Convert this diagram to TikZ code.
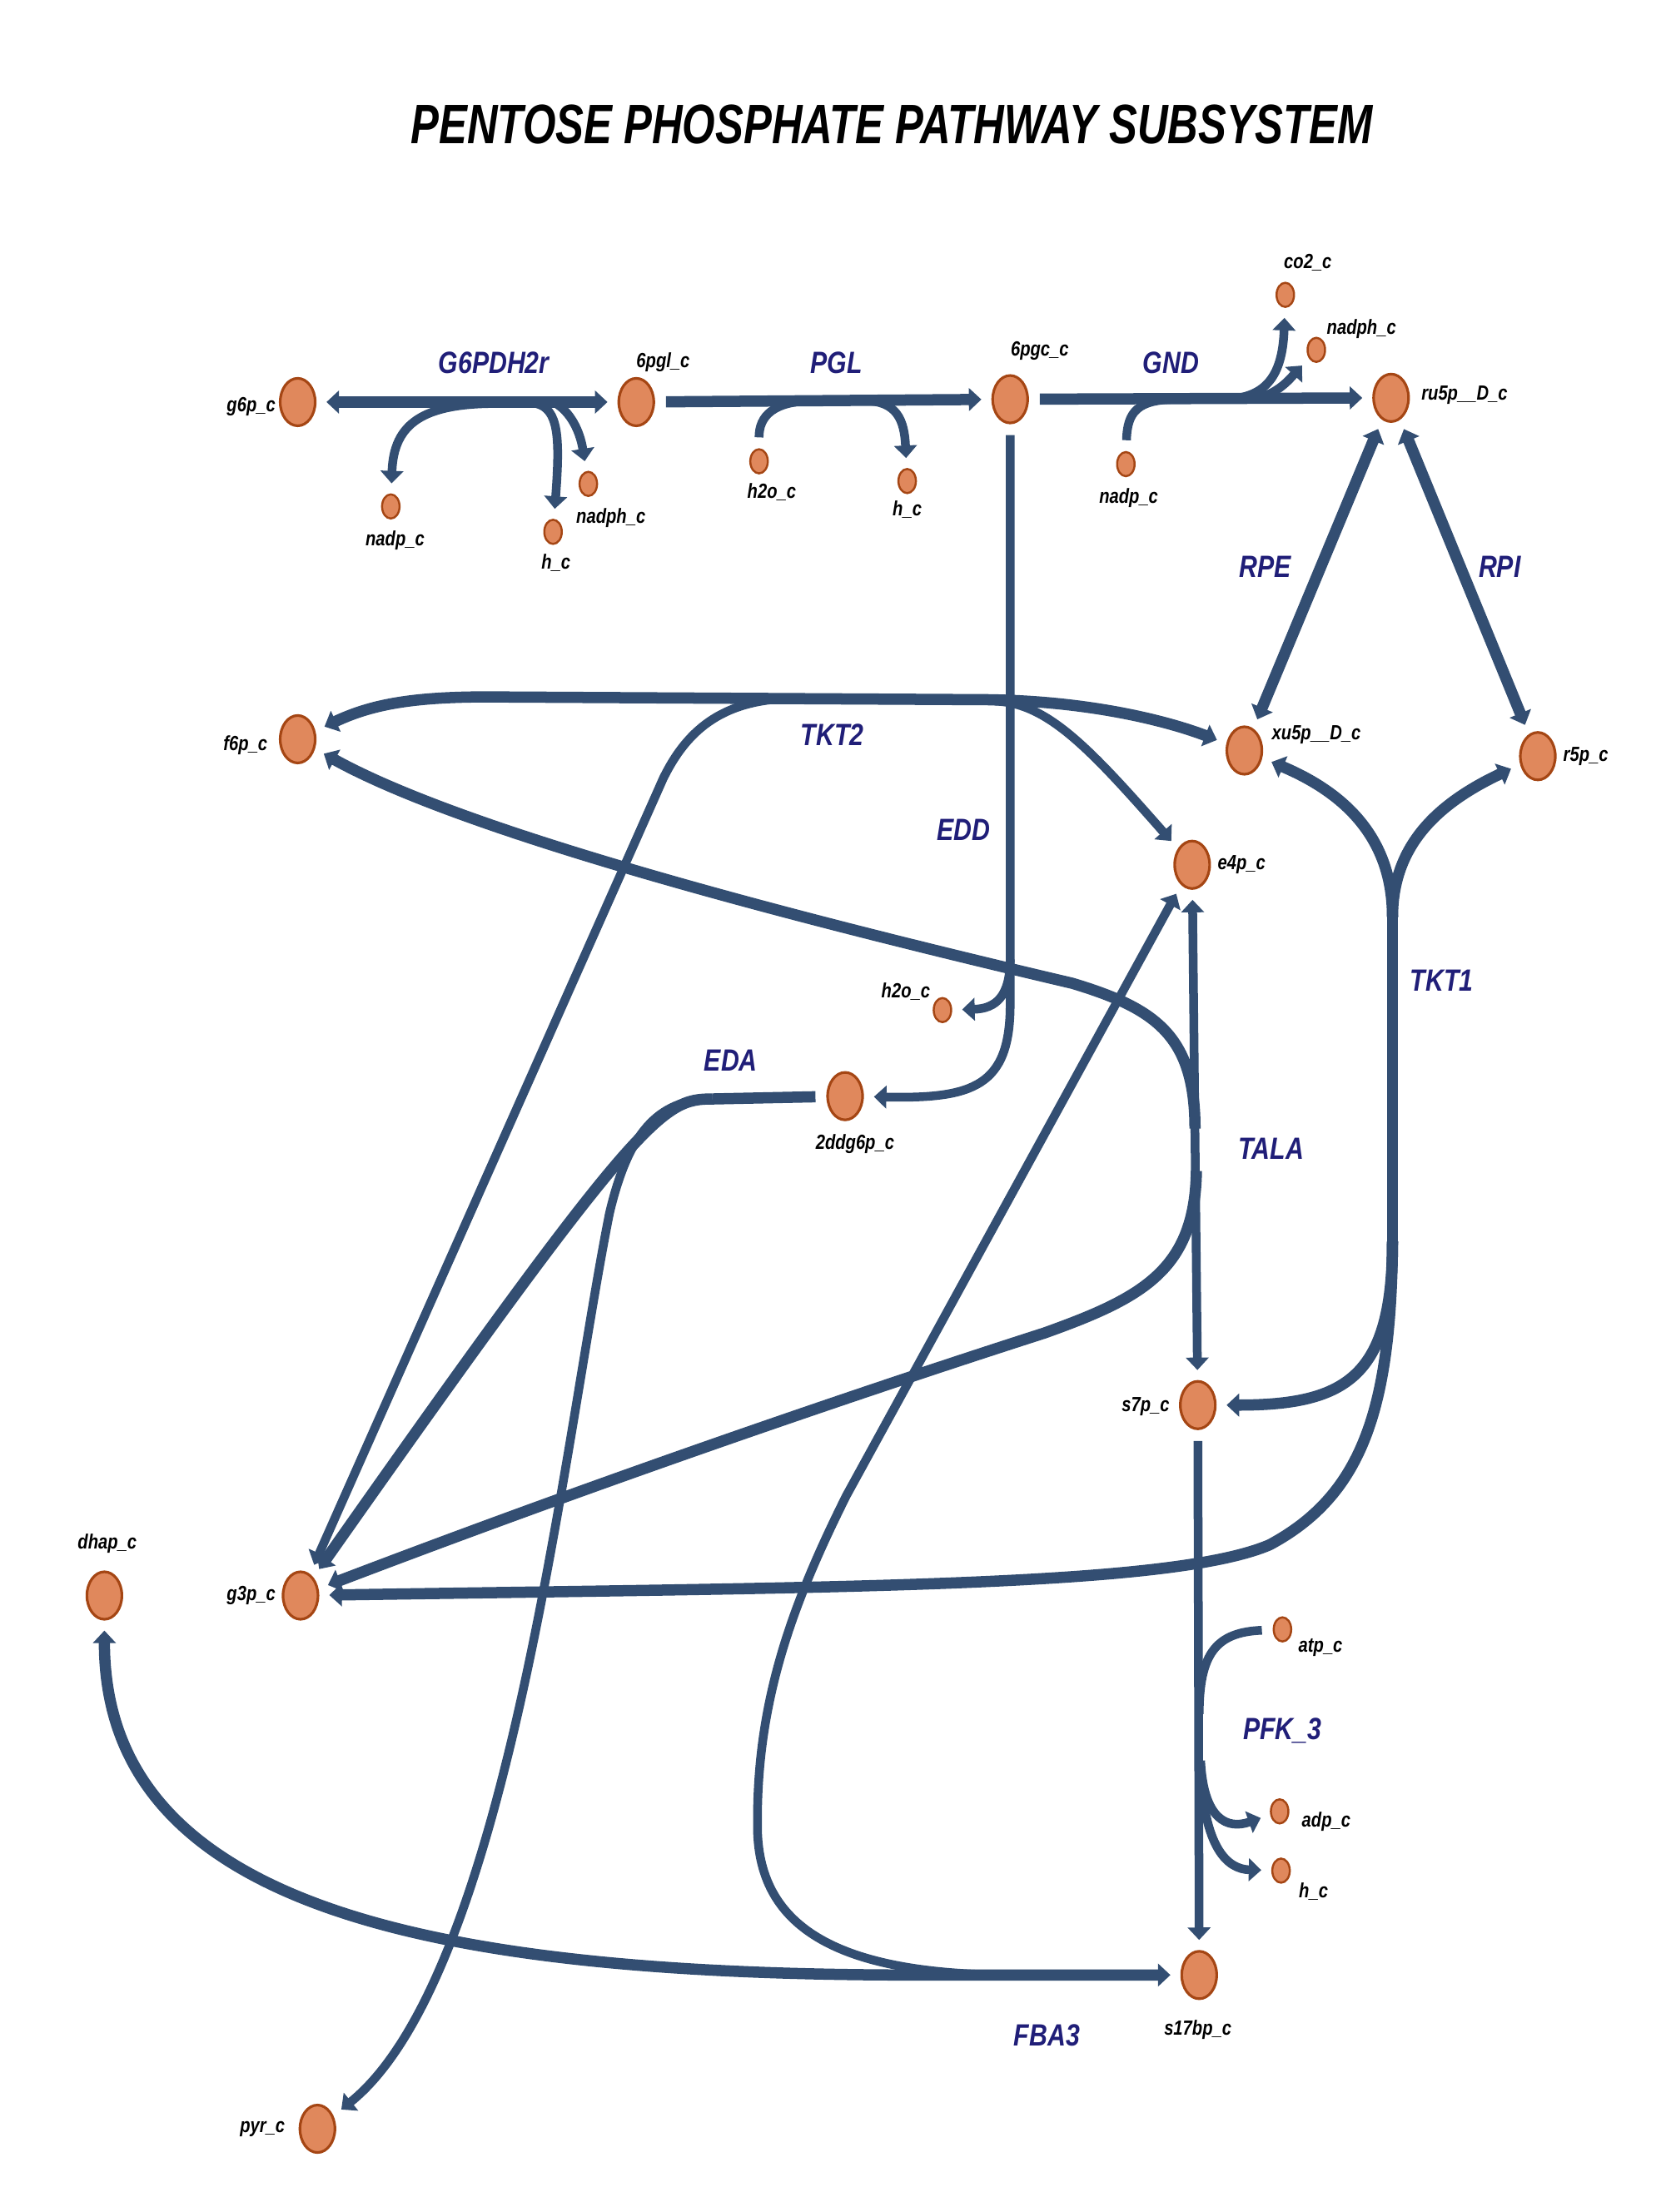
\documentclass[tikz,border=0pt]{standalone}
\usepackage{fontspec}
\setmainfont{Liberation Sans}
\newfontfamily\narrowsans[FakeStretch=0.82]{Liberation Sans}
\newfontfamily\titlesans[FakeStretch=0.76]{Liberation Sans}
\usepackage{tikz}
\usetikzlibrary{arrows.meta, positioning, shapes.geometric}
\definecolor{metorange}{RGB}{224,136,92}
\definecolor{metbrown}{RGB}{165,70,20}
\definecolor{rxnblue}{RGB}{51,78,114}
\definecolor{rxnnavy}{RGB}{32,30,120}
\tikzset{
    % Metabolite nodes
    metbig/.style={ellipse, fill=metorange, draw=metbrown, line width=0.9pt, minimum width=0.42cm, minimum height=0.57cm, inner sep=0pt},
    metsmall/.style={ellipse, fill=metorange, draw=metbrown, line width=0.7pt, minimum width=0.21cm, minimum height=0.29cm, inner sep=0pt},
    % Text styles
    metlabel/.style={font=\narrowsans\bfseries\itshape\fontsize{7}{8}\selectfont, text=black, inner sep=0pt},
    rxnname/.style={font=\narrowsans\bfseries\itshape\fontsize{10.5}{12}\selectfont, text=rxnnavy, inner sep=0pt},
    titletext/.style={font=\titlesans\bfseries\itshape\fontsize{19}{22}\selectfont, text=black, inner sep=0pt},
    % Reaction lines
    rxn/.style={draw=rxnblue, line width=0.105cm},
    rxnheavy/.style={draw=rxnblue, line width=0.135cm},
    prod/.style={-{Triangle[length=0.15cm, width=0.27cm]}, shorten >=0.12cm},
    subs/.style={shorten <=0.13cm},
    revs/.style={{Triangle[length=0.15cm, width=0.27cm]}-{Triangle[length=0.15cm, width=0.27cm]}, shorten >=0.12cm, shorten <=0.12cm},
}
\begin{document}
\begin{tikzpicture}[x=0.016943cm, y=-0.016943cm]
\useasboundingbox (0,0) rectangle (1184,1568);

\node[titletext] (title) at (632,88) {PENTOSE PHOSPHATE PATHWAY SUBSYSTEM};

% ============================================================
% Metabolites
% ============================================================
\node[metbig] (g6p)  at (211,285) {};
\node[metbig] (pgl)  at (451,285) {};
\node[metbig] (pgc)  at (716,283) {};
\node[metbig] (ru5p) at (986,282) {};
\node[metbig] (f6p)  at (211,524) {};
\node[metbig] (xu5p) at (882,532) {};
\node[metbig] (r5p)  at (1090,536) {};
\node[metbig] (e4p)  at (845,613) {};
\node[metbig] (ddg)  at (599,777) {};
\node[metbig] (s7p)  at (849,996) {};
\node[metbig] (dhap) at (74,1131) {};
\node[metbig] (g3p)  at (213,1131) {};
\node[metbig] (sbp)  at (850,1400) {};
\node[metbig] (pyr)  at (225,1509) {};

\node[metsmall] (nadpA)  at (277,359) {};
\node[metsmall] (hA)     at (392,377) {};
\node[metsmall] (nadphA) at (417,343) {};
\node[metsmall] (h2oA)   at (538,327) {};
\node[metsmall] (hB)     at (643,341) {};
\node[metsmall] (nadpB)  at (798,329) {};
\node[metsmall] (co2)    at (911,209) {};
\node[metsmall] (nadphB) at (933,248) {};
\node[metsmall] (h2oB)   at (668,716) {};
\node[metsmall] (atp)    at (909,1155) {};
\node[metsmall] (adp)    at (907,1284) {};
\node[metsmall] (hC)     at (908,1326) {};

% Metabolite labels
\node[metlabel] (g6pL)    at (178,288)  {g6p\_c};
\node[metlabel] (pglL)    at (470,257)  {6pgl\_c};
\node[metlabel] (pgcL)    at (737,249)  {6pgc\_c};
\node[metlabel] (ru5pL)   at (1038,280) {ru5p\_\_D\_c};
\node[metlabel] (nadpAL)  at (280,383)  {nadp\_c};
\node[metlabel] (hAL)     at (394,399)  {h\_c};
\node[metlabel] (nadphAL) at (433,367)  {nadph\_c};
\node[metlabel] (h2oAL)   at (547,349)  {h2o\_c};
\node[metlabel] (hBL)     at (643,361)  {h\_c};
\node[metlabel] (nadpBL)  at (800,353)  {nadp\_c};
\node[metlabel] (co2L)    at (927,186)  {co2\_c};
\node[metlabel] (nadphBL) at (965,233)  {nadph\_c};
\node[metlabel] (f6pL)    at (174,528)  {f6p\_c};
\node[metlabel] (xu5pL)   at (933,521)  {xu5p\_\_D\_c};
\node[metlabel] (r5pL)    at (1124,536) {r5p\_c};
\node[metlabel] (e4pL)    at (880,613)  {e4p\_c};
\node[metlabel] (h2oBL)   at (642,703)  {h2o\_c};
\node[metlabel] (ddgL)    at (606,811)  {2ddg6p\_c};
\node[metlabel] (s7pL)    at (812,997)  {s7p\_c};
\node[metlabel] (dhapL)   at (76,1094)  {dhap\_c};
\node[metlabel] (g3pL)    at (178,1131) {g3p\_c};
\node[metlabel] (atpL)    at (936,1168) {atp\_c};
\node[metlabel] (adpL)    at (940,1291) {adp\_c};
\node[metlabel] (hCL)     at (931,1341) {h\_c};
\node[metlabel] (sbpL)    at (849,1439) {s17bp\_c};
\node[metlabel] (pyrL)    at (186,1509) {pyr\_c};

% Reaction names
\node[rxnname] (g6pdhL) at (350,257)  {G6PDH2r};
\node[rxnname] (pglRL)  at (593,257)  {PGL};
\node[rxnname] (gndL)   at (830,257)  {GND};
\node[rxnname] (rpeL)   at (897,402)  {RPE};
\node[rxnname] (rpiL)   at (1063,402) {RPI};
\node[rxnname] (tkt2L)  at (590,521)  {TKT2};
\node[rxnname] (eddL)   at (683,588)  {EDD};
\node[rxnname] (edaL)   at (518,752)  {EDA};
\node[rxnname] (tkt1L)  at (1022,695) {TKT1};
\node[rxnname] (talaL)  at (901,814)  {TALA};
\node[rxnname] (pfkL)   at (909,1227) {PFK\_3};
\node[rxnname] (fbaL)   at (742,1443) {FBA3};

% ============================================================
% Branch points
% ============================================================
\coordinate (gpdA) at (352,286);
\coordinate (gpdB) at (380,286);
\coordinate (gpdC) at (394,286);
\coordinate (pglA) at (578,284);
\coordinate (pglB) at (612,284);
\coordinate (gndA) at (835,283);
\coordinate (gndB) at (866,283);
\coordinate (gndC) at (884,283);
\coordinate (tktA) at (565,495);
\coordinate (tktB) at (705,497);
\coordinate (eddA) at (716,680);
\coordinate (edaA) at (505,779);
\coordinate (talA) at (847,800);
\coordinate (talB) at (848,830);
\coordinate (tkoA) at (987,650);
\coordinate (tkoB) at (987,880);
\coordinate (fbaA) at (720,1400);
\coordinate (pfkA) at (850,1215);
\coordinate (pfkB) at (851,1248);
\coordinate (pfkC) at (851,1252);

% ============================================================
% Oxidative branch
% ============================================================
\draw[rxnheavy, revs] (g6p) -- (pgl);
\draw[rxn, prod] (gpdA) .. controls (300,286) and (279,300) .. (nadpA);
\draw[rxn, prod] (gpdB) .. controls (396,290) and (397,310) .. (hA);
\draw[rxn, prod] (gpdC) .. controls (404,292) and (411,305) .. (nadphA);

\draw[rxnheavy, subs, prod] (pgl) -- (pgc);
\draw[rxn, subs] (h2oA) .. controls (538,295) and (548,284) .. (pglA);
\draw[rxn, prod] (pglB) .. controls (636,284) and (641,298) .. (hB);

\draw[rxnheavy, subs, prod] (pgc) -- (ru5p);
\draw[rxn, subs] (nadpB) .. controls (799,292) and (806,283) .. (gndA);
\draw[rxn, prod] (gndB) .. controls (896,283) and (909,268) .. (co2);
\draw[rxn, prod] (gndC) .. controls (903,282) and (913,270) .. (nadphB);

\draw[rxnheavy, revs] (xu5p) -- (ru5p);
\draw[rxnheavy, revs] (r5p) -- (ru5p);

% ============================================================
% Entner-Doudoroff
% ============================================================
\draw[rxn, subs, prod] (pgc) -- (716,712) .. controls (716,770) and (690,779) .. (ddg);
\draw[rxn, prod] (eddA) .. controls (716,706) and (706,715) .. (h2oB);

\draw[rxnheavy, subs] (ddg) -- (edaA);
\draw[rxnheavy, prod] (edaA) .. controls (470,779) and (455,787) .. (g3p);
\draw[rxn, prod] (edaA) .. controls (465,779) and (445,805) .. (432,860)
      .. controls (400,1020) and (360,1400) .. (pyr);

% ============================================================
% Non-oxidative branch
% ============================================================
\draw[rxnheavy, revs] (f6p) .. controls (262,500) and (290,494) .. (345,494) -- (700,496)
      .. controls (775,497) and (830,512) .. (xu5p);
\draw[rxn, prod] (tktA) .. controls (515,495) and (488,515) .. (470,552) -- (g3p);
\draw[rxn, prod] (tktB) .. controls (742,498) and (772,530) .. (e4p);

\draw[rxn, revs] (e4p) -- (s7p);
\draw[rxnheavy, prod] (talA) .. controls (847,735) and (820,715) .. (760,697)
      .. controls (560,650) and (330,590) .. (f6p);
\draw[rxnheavy, prod] (talB) .. controls (847,900) and (810,920) .. (740,945)
      .. controls (600,990) and (420,1052) .. (g3p);

\draw[rxnheavy, prod] (tkoA) .. controls (987,600) and (960,565) .. (xu5p);
\draw[rxnheavy, prod] (tkoA) .. controls (987,600) and (1018,570) .. (r5p);
\draw[rxnheavy] (tkoA) -- (tkoB);
\draw[rxnheavy, prod] (tkoB) .. controls (987,975) and (955,996) .. (s7p);
\draw[rxnheavy, prod] (tkoB) .. controls (986,1000) and (965,1060) .. (900,1095)
      .. controls (830,1125) and (600,1125) .. (g3p);

% ============================================================
% Sedoheptulose bisphosphate
% ============================================================
\draw[rxn, subs, prod] (s7p) -- (sbp);
\draw[rxn, subs] (atp) .. controls (862,1157) and (850,1172) .. (pfkA);
\draw[rxn, prod] (pfkB) .. controls (853,1290) and (870,1297) .. (adp);
\draw[rxn, prod] (pfkC) .. controls (853,1310) and (870,1325) .. (hC);

\draw[rxnheavy, revs] (dhap) .. controls (74,1350) and (300,1400) .. (650,1400) -- (sbp);
\draw[rxn, prod] (fbaA) .. controls (600,1400) and (540,1370) .. (537,1300)
      .. controls (535,1210) and (560,1140) .. (600,1060) -- (e4p);

\end{tikzpicture}
\end{document}
